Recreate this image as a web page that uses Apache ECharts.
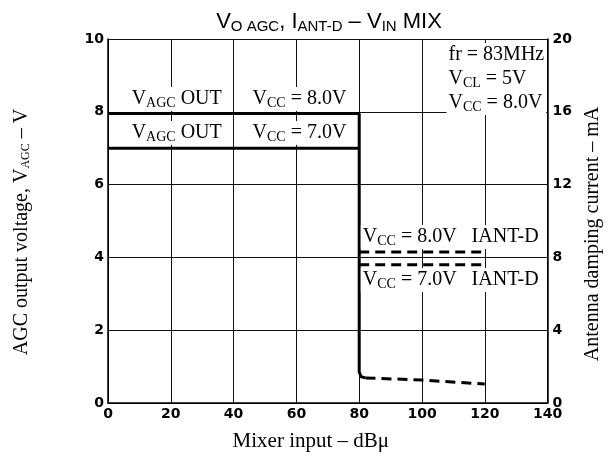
<!DOCTYPE html>
<html><head><meta charset="utf-8">
<script src="https://cdn.jsdelivr.net/npm/echarts@6/dist/echarts.min.js"></script>
<style>html,body{margin:0;padding:0;background:#fff}#c{width:611px;height:457px}</style>
</head><body><div id="c"></div>
<script>
// ---- data ----
const xRange = [0, 140];
const leftRange = [0, 10];
const rightRange = [0, 20];
// V_AGC OUT, Vcc = 8.0 V (solid, incl. the drop at 80 dBµ)
const vagc8 = [[0, 7.95], [80, 7.95], [80, 0.85], [80.6, 0.72], [82, 0.69]];
// V_AGC OUT, Vcc = 7.0 V
const vagc7 = [[0, 7.0], [80, 7.0]];
// V_AGC after drop (dashed)
const vagcLow = [[82, 0.69], [100, 0.63], [120, 0.52]];
// Antenna damping current (mA, right axis)
const iant8 = [[80, 8.3], [120, 8.3]];
const iant7 = [[80, 7.6], [120, 7.6]];
// annotation texts and anchors (x in dBµ, y in V)
const noteTexts = [
  'V{s|AGC} OUT', 'V{s|CC} = 8.0V',
  'V{s|AGC} OUT', 'V{s|CC} = 7.0V',
  'fr = 83MHz\nV{s|CL} = 5V\nV{s|CC} = 8.0V',
  'V{s|CC} = 8.0V   IANT-D',
  'V{s|CC} = 7.0V   IANT-D'
];
const noteAnchors = [
  [6.9, 8.35], [45.4, 8.35],
  [6.9, 7.42], [45.4, 7.42],
  [107.8, 8.9],
  [80.5, 4.56],
  [80.5, 3.38]
];

const serif = 'Liberation Serif';
const tickFont = {fontFamily: 'DejaVu Sans', fontWeight: 'bold', fontSize: 14, color: '#000'};
const subStyle = {fontFamily: serif, fontSize: 14, lineHeight: 14, padding: [9, 0, 0, 0], color: '#000', opacity: 1};

const chart = echarts.init(document.getElementById('c'), null, {renderer: 'canvas'});
const lineBase = {type: 'line', symbol: 'none', animation: false, silent: true};
chart.setOption({
  backgroundColor: '#fff',
  animation: false,
  title: {
    text: 'V{s|O AGC}, I{s|ANT-D} – V{s|IN} MIX',
    left: 324, top: 6, textAlign: 'center',
    textStyle: {
      fontFamily: 'Liberation Sans', fontSize: 22, fontWeight: 'normal', color: '#000',
      rich: {s: {fontFamily: 'Liberation Sans', fontSize: 15, lineHeight: 15, padding: [9, 0, 0, 0], color: '#000'}}
    }
  },
  grid: {left: 108, right: 56, top: 39, bottom: 54, containLabel: false},
  xAxis: {
    type: 'value', min: xRange[0], max: xRange[1], interval: 20,
    axisLine: {show: true, lineStyle: {color: '#000', width: 1.5}},
    axisTick: {show: false},
    axisLabel: Object.assign({margin: 4}, tickFont),
    splitLine: {show: true, lineStyle: {color: '#111', width: 1}},
    name: 'Mixer input – dBμ', nameLocation: 'middle', nameGap: 28,
    nameTextStyle: {fontFamily: serif, fontSize: 21, color: '#000', padding: [0, 34, 0, 0]}
  },
  yAxis: [{
    type: 'value', min: leftRange[0], max: leftRange[1], interval: 2,
    axisLine: {show: true, lineStyle: {color: '#000', width: 1.5}},
    axisTick: {show: false},
    axisLabel: Object.assign({margin: 4}, tickFont),
    splitLine: {show: true, lineStyle: {color: '#111', width: 1}},
    name: 'AGC output voltage, V{s|AGC} – V', nameLocation: 'middle', nameRotate: 90, nameGap: 76,
    nameTextStyle: {fontFamily: serif, fontSize: 20, color: '#000', padding: [0, 22, 0, 0],
      rich: {s: {fontFamily: serif, fontSize: 12, lineHeight: 12, padding: [8, 0, 0, 0], color: '#000'}}}
  }, {
    type: 'value', min: rightRange[0], max: rightRange[1], interval: 4, position: 'right',
    axisLine: {show: true, lineStyle: {color: '#000', width: 1.5}},
    axisTick: {show: false},
    axisLabel: Object.assign({margin: 5}, tickFont),
    splitLine: {show: false},
    name: 'Antenna damping current – mA', nameLocation: 'middle', nameRotate: 90, nameGap: 24,
    nameTextStyle: {fontFamily: serif, fontSize: 20, color: '#000', padding: [0, 26, 0, 0]}
  }],
  series: [
    Object.assign({data: vagc8, lineStyle: {color: '#000', width: 3}}, lineBase),
    Object.assign({data: vagc7, lineStyle: {color: '#000', width: 3}}, lineBase),
    Object.assign({data: vagcLow, lineStyle: {color: '#000', width: 3, type: [10, 6]}}, lineBase),
    Object.assign({data: iant8, yAxisIndex: 1, lineStyle: {color: '#000', width: 3, type: [10, 6]}}, lineBase),
    Object.assign({data: iant7, yAxisIndex: 1, lineStyle: {color: '#000', width: 3, type: [10, 6]}}, lineBase),
    {
      type: 'scatter', symbolSize: 0, z: 5, animation: false, silent: true,
      itemStyle: {opacity: 1, color: '#000'},
      data: noteAnchors.map((p, i) => ({
        value: p,
        label: {formatter: noteTexts[i]}
      })),
      label: {
        show: true, position: 'right', distance: 0, align: 'left', opacity: 1,
        fontFamily: serif, fontSize: 20, lineHeight: 24, color: '#000',
        backgroundColor: '#fff', padding: [0, 2, 0, 2],
        rich: {s: subStyle}
      }
    }
  ]
});
</script></body></html>
